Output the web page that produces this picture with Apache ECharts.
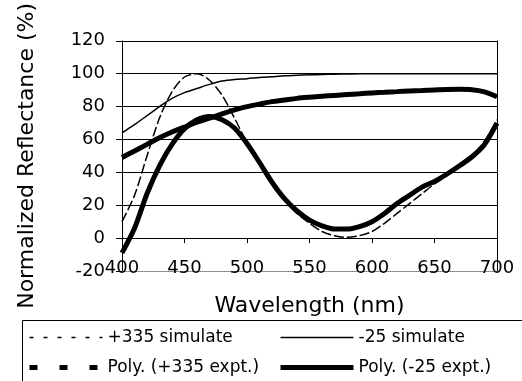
<!DOCTYPE html>
<html>
<head>
<meta charset="utf-8">
<script src="https://cdn.jsdelivr.net/npm/echarts@6/dist/echarts.min.js"></script>
<style>
  html, body { margin: 0; padding: 0; background: #fff; }
  #chart { width: 522px; height: 381px; }
</style>
</head>
<body>
<div id="chart"></div>
<script>
// wavelength (nm), every 10 nm
var wavelengths = [400, 410, 420, 430, 440, 450, 460, 470, 480, 490, 500,
                   510, 520, 530, 540, 550, 560, 570, 580, 590, 600,
                   610, 620, 630, 640, 650, 660, 670, 680, 690, 700];
// normalized reflectance (%)
var sim335 = [10, 26, 50, 73, 89, 98, 100, 96, 87, 73, 58,
              45, 33, 23, 15, 9, 4, 1.5, 0.5, 1.5, 4,
              9, 15, 21, 27, 33, 38, 44, 50, 59, 72];
var sim25 = [64, 69, 74.5, 80, 85, 88.5, 91, 93.5, 95.5, 96.5, 97,
             97.7, 98.2, 98.7, 99, 99.3, 99.5, 99.7, 99.8, 100, 100,
             100, 100, 100, 100, 100, 100, 100, 100, 100, 100];
var poly335 = [-9, 6, 27, 44, 57, 66.5, 72, 74, 72, 67, 57.5,
               46, 34, 24, 16.5, 11, 7.5, 5.5, 5.5, 7, 10,
               15, 21, 26, 31, 34.5, 39, 44, 49.5, 57, 70];
var poly25 = [49, 53, 57, 61, 64.5, 67.5, 70.5, 73, 75.5, 78, 80,
              81.5, 83, 84, 85, 85.7, 86.3, 86.8, 87.3, 87.8, 88.3,
              88.7, 89.1, 89.5, 89.8, 90.1, 90.4, 90.5, 90.3, 89, 86];
var seriesNames = ['+335 simulate', '-25 simulate', 'Poly. (+335 expt.)', 'Poly. (-25 expt.)'];

var FONT = 'DejaVu Sans';

function pairs(vals) {
  return wavelengths.map(function (w, i) { return [w, vals[i]]; });
}

var chart = echarts.init(document.getElementById('chart'));

var legendText = { fontFamily: FONT, fontSize: 17, color: '#000' };
var noSymbol = { opacity: 0 };

var option = {
  animation: false,
  backgroundColor: '#fff',
  grid: { left: 122, top: 40, right: 25, bottom: 110 },
  legend: [{
    left: 27, top: 329, orient: 'vertical', padding: 0,
    itemWidth: 73, itemHeight: 10, itemGap: 13,
    textStyle: legendText,
    data: [
      { name: seriesNames[0], itemStyle: noSymbol, lineStyle: { width: 1.5, type: [4, 10], color: '#000' } },
      { name: seriesNames[2], itemStyle: noSymbol, lineStyle: { width: 5, type: [8, 22], color: '#000' } }
    ]
  }, {
    left: 278, top: 329, orient: 'vertical', padding: 0,
    itemWidth: 73, itemHeight: 10, itemGap: 13,
    textStyle: legendText,
    data: [
      { name: seriesNames[1], itemStyle: noSymbol, lineStyle: { width: 1.5, type: 'solid', color: '#000' } },
      { name: seriesNames[3], itemStyle: noSymbol, lineStyle: { width: 5, type: 'solid', color: '#000' } }
    ]
  }],
  graphic: [{
    type: 'rect',
    shape: { x: 22.5, y: 320.5, width: 520, height: 80 },
    style: { fill: 'none', stroke: '#000', lineWidth: 1 },
    silent: true
  }],
  xAxis: [{
    // axis line through 0 with ticks
    type: 'value', min: 400, max: 700, interval: 50, position: 'bottom',
    axisLine: { show: true, onZero: true, lineStyle: { color: '#000', width: 1 } },
    axisTick: { show: true, inside: false, length: 5, lineStyle: { color: '#000' } },
    axisLabel: { show: false },
    splitLine: { show: false }
  }, {
    // frame bottom with labels and name
    type: 'value', min: 400, max: 700, interval: 50, position: 'bottom',
    axisLine: { show: true, onZero: false, lineStyle: { color: '#777', width: 1, type: 'dotted' } },
    axisTick: { show: false },
    axisLabel: { show: true, margin: -12, fontFamily: FONT, fontSize: 18, color: '#000' },
    splitLine: { show: false },
    name: 'Wavelength (nm)', nameLocation: 'middle', nameGap: 24,
    nameTextStyle: { fontFamily: FONT, fontSize: 22, color: '#000' }
  }],
  yAxis: [{
    type: 'value', min: -20, max: 120, interval: 20,
    axisLine: { show: true, lineStyle: { color: '#000', width: 1 } },
    axisTick: { show: true, inside: false, length: 6, lineStyle: { color: '#000' } },
    axisLabel: { margin: 17, fontFamily: FONT, fontSize: 18, color: '#000' },
    splitLine: {
      show: true,
      lineStyle: { color: ['transparent', '#000', '#000', '#000', '#000', '#000', '#000', '#000'], width: 1 }
    },
    name: 'Normalized Reflectance (%)', nameLocation: 'middle', nameGap: 84,
    nameTextStyle: { fontFamily: FONT, fontSize: 22, color: '#000' }
  }, {
    // right frame edge
    type: 'value', min: -20, max: 120, interval: 20, position: 'right',
    axisLine: { show: true, lineStyle: { color: '#000', width: 1 } },
    axisTick: { show: false },
    axisLabel: { show: false },
    splitLine: { show: false }
  }],
  series: [{
    name: seriesNames[0], type: 'line', smooth: 0.3, symbol: 'none',
    lineStyle: { color: '#000', width: 1.5, type: [10, 3] },
    itemStyle: { color: '#000' },
    data: pairs(sim335)
  }, {
    name: seriesNames[1], type: 'line', smooth: 0.3, symbol: 'none',
    lineStyle: { color: '#000', width: 1.5 },
    itemStyle: { color: '#000' },
    data: pairs(sim25)
  }, {
    name: seriesNames[2], type: 'line', smooth: 0.3, symbol: 'none',
    lineStyle: { color: '#000', width: 5 },
    itemStyle: { color: '#000' },
    data: pairs(poly335)
  }, {
    name: seriesNames[3], type: 'line', smooth: 0.3, symbol: 'none',
    lineStyle: { color: '#000', width: 5 },
    itemStyle: { color: '#000' },
    data: pairs(poly25)
  }]
};

chart.setOption(option);
</script>
</body>
</html>
